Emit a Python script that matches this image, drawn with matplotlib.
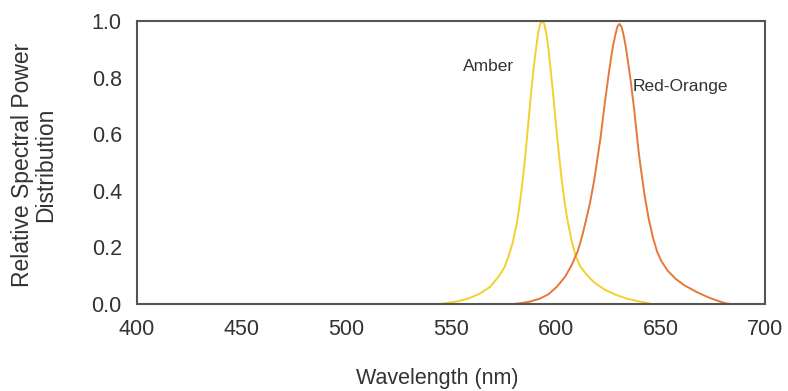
import numpy as np
import matplotlib
matplotlib.use('Agg')
import matplotlib.pyplot as plt

plt.rcParams['font.family'] = ['Liberation Sans', 'DejaVu Sans']

# values
amber_wl = [544.5, 548.5, 553.5, 558.5, 563.5, 568.5, 572.5, 575.5, 577.5, 579.5, 581.5, 582.5, 583.5,
            584.5, 585.5, 586.5, 587.5, 588.5, 589.5, 590.5, 591.5, 592.5, 593.5, 594.5, 595.5, 596.5,
            597.5, 598.5, 599.5, 600.5, 601.5, 602.5, 603.5, 604.5, 605.5, 607.5, 609.5, 611.5, 614.5,
            618.5, 623.5, 628.5, 633.5, 638.5, 643.5, 645.5]
amber_val = [0.0, 0.004, 0.01, 0.02, 0.036, 0.06, 0.095, 0.13, 0.17, 0.22, 0.29, 0.34, 0.395,
             0.46, 0.53, 0.61, 0.69, 0.77, 0.84, 0.9, 0.955, 0.99, 1.0, 0.99, 0.955, 0.9,
             0.83, 0.76, 0.68, 0.6, 0.53, 0.46, 0.4, 0.345, 0.3, 0.225, 0.17, 0.135, 0.105,
             0.075, 0.05, 0.033, 0.02, 0.011, 0.004, 0.0]

red_wl = [579.4, 583.4, 587.4, 592.4, 596.4, 600.4, 604.4, 607.4, 610.4, 612.4, 614.4, 616.4, 618.4,
          620.4, 621.4, 622.4, 623.4, 624.4, 625.4, 626.4, 627.4, 628.4, 629.4, 630.4, 631.4, 632.4,
          633.4, 634.4, 635.4, 636.4, 637.4, 638.4, 639.4, 640.4, 642.4, 644.4, 646.4, 648.4, 650.4,
          653.4, 657.4, 661.4, 667.4, 672.4, 677.4, 681.4, 684.0]
red_val = [0.0, 0.003, 0.008, 0.019, 0.034, 0.06, 0.096, 0.135, 0.185, 0.235, 0.295, 0.36, 0.44,
           0.54, 0.59, 0.65, 0.71, 0.765, 0.82, 0.87, 0.915, 0.95, 0.98, 0.99, 0.98, 0.95,
           0.91, 0.86, 0.81, 0.75, 0.69, 0.62, 0.55, 0.49, 0.385, 0.3, 0.235, 0.185, 0.152,
           0.118, 0.088, 0.066, 0.042, 0.025, 0.011, 0.002, 0.0]

xticks = [400, 450, 500, 550, 600, 650, 700]
yticks = [0.0, 0.2, 0.4, 0.6, 0.8, 1.0]

fig = plt.figure(figsize=(7.88, 3.91), dpi=100)
ax = fig.add_axes([0.174, 0.2225, 0.797, 0.7235])

ax.plot(amber_wl, amber_val, color='#f3d02c', lw=1.4, solid_joinstyle='round')
ax.plot(red_wl, red_val, color='#e6783a', lw=1.4, solid_joinstyle='round')

ax.set_xlim(400, 700)
ax.set_ylim(0, 1.0)
ax.set_xticks(xticks)
ax.set_yticks(yticks)
ax.set_yticklabels(['%.1f' % v for v in yticks])
ax.tick_params(axis='both', length=0, labelsize=15.5, colors='#333333')
ax.tick_params(axis='x', pad=11)
ax.tick_params(axis='y', pad=11)

for s in ax.spines.values():
    s.set_color('#555555')
    s.set_linewidth(1.5)

ax.text(567.7, 0.841, 'Amber', fontsize=12.5, color='#333333', ha='center', va='center')
ax.text(659.4, 0.77, 'Red-Orange', fontsize=12.5, color='#333333', ha='center', va='center')

fig.text(0.555, 0.033, 'Wavelength (nm)', fontsize=15.5, color='#333333', ha='center', va='center')
fig.text(0.043, 0.578, 'Relative Spectral Power\nDistribution', fontsize=16.5, color='#333333',
         ha='center', va='center', rotation=90, linespacing=1.0)

fig.savefig('out.png', dpi=100)
